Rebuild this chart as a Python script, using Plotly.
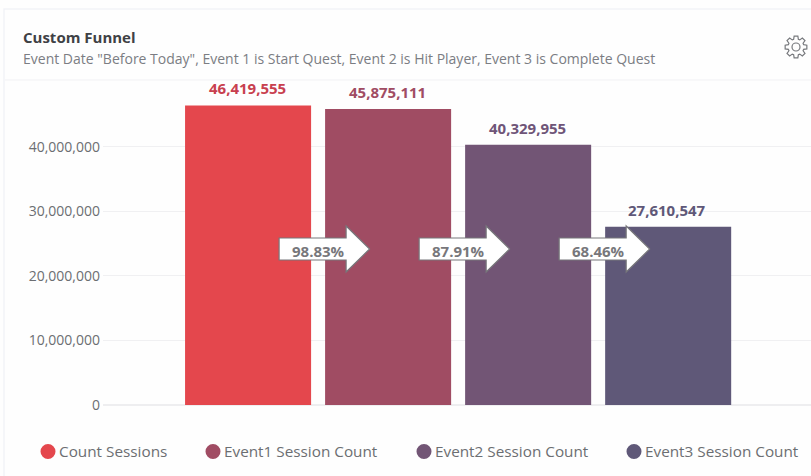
import math
import plotly.graph_objects as go

W, H = 811, 476
PLOT_L, PLOT_T, PLOT_B = 103, 81, 405
series_names = ["Count Sessions", "Event1 Session Count", "Event2 Session Count", "Event3 Session Count"]
series_values = [46419555, 45875111, 40329955, 27610547]
bar_colors = ["#e4474d", "#a04c63", "#725575", "#5f5878"]
label_colors = ["#c8404f", "#a04c63", "#6f5578", "#5f5878"]
conversion_labels = ["98.83%", "87.91%", "68.46%"]
tick_values = [0, 10000000, 20000000, 30000000, 40000000]
tick_labels = ["0", "10,000,000", "20,000,000", "30,000,000", "40,000,000"]
legend_dot_x = [48, 213, 424, 634]
FONT = "Open Sans"

def px(x):
    return (x - PLOT_L) / (W - PLOT_L)

def py(y):
    return (PLOT_B - y) / (PLOT_B - PLOT_T)

fig = go.Figure()
annotations = []
for name, value, color, tcolor in zip(series_names, series_values, bar_colors, label_colors):
    fig.add_bar(
        x=[name], y=[value], name=name, width=0.9, marker=dict(color=color, line_width=0),
        cliponaxis=False, showlegend=False,
    )
    annotations.append(dict(
        x=name, y=value, xref="x", yref="y", yanchor="bottom", yshift=5, xshift=-1, showarrow=False,
        text=f"<b>{value:,}</b>", font=dict(family=FONT, size=15, color=tcolor),
    ))

shapes = [
    dict(type="rect", xref="paper", yref="paper", x0=px(4), x1=px(830), y0=py(9), y1=py(490),
         line=dict(color="#f2f3f8", width=1.5), fillcolor="rgba(0,0,0,0)", layer="below"),
    dict(type="line", xref="paper", yref="paper", x0=px(5), x1=1, y0=py(80), y1=py(80),
         line=dict(color="#f1f1f4", width=1), layer="below"),
]

# Conversion arrows: pixel outlines anchored on the bar they point into
arrow = "M -109 -11 L -42 -11 L -42 -23 L -18.5 0 L -42 23 L -42 11 L -109 11 Z"
for i, label in enumerate(conversion_labels):
    shapes.append(dict(
        type="path", xref="x", yref="paper", xsizemode="pixel", ysizemode="pixel",
        xanchor=i + 1, yanchor=py(249), path=arrow, fillcolor="#ffffff",
        line=dict(color="#77777b", width=1.2), layer="above",
    ))
    annotations.append(dict(
        x=i + 1, xref="x", y=py(251), yref="paper", yanchor="middle", xshift=-70, text=f"<b>{label}</b>",
        showarrow=False, font=dict(family=FONT, size=15, color="#77777b"),
    ))

annotations += [
    dict(x=px(23), y=py(37), xref="paper", yref="paper", xanchor="left", yanchor="middle", showarrow=False, xshift=-2,
         text="<b>Custom Funnel</b>", font=dict(family=FONT, size=15, color="#3f4145")),
    dict(x=px(23), y=py(59), xref="paper", yref="paper", xanchor="left", yanchor="middle", showarrow=False, xshift=-2,
         text='Event Date "Before Today", Event 1 is Start Quest, Event 2 is Hit Player, Event 3 is Complete Quest',
         font=dict(family=FONT, size=14, color="#7b7d83")),
]

# Legend
for name, color, x in zip(series_names, bar_colors, legend_dot_x):
    shapes.append(dict(type="circle", xref="paper", yref="paper", x0=px(x - 7.5), x1=px(x + 7.5),
                       y0=py(459), y1=py(444), fillcolor=color, line_width=0))
    annotations.append(dict(x=px(x + 9), y=py(451), xref="paper", yref="paper", xanchor="left", yanchor="middle",
                            showarrow=False, text=name, font=dict(family=FONT, size=15.3, color="#6c6e72")))

# Gear icon
cx, cy = 796, 47
pts = []
for k in range(8):
    a = k * math.pi / 4
    for da, r in ((-0.30, 8.0), (-0.17, 11.0), (0.17, 11.0), (0.30, 8.0)):
        pts.append((cx + r * math.cos(a + da), cy + r * math.sin(a + da)))
path = "M " + " L ".join(f"{px(x):.5f} {py(y):.5f}" for x, y in pts) + " Z"
shapes.append(dict(type="path", xref="paper", yref="paper", path=path,
                   line=dict(color="#77797d", width=1.2), fillcolor="rgba(0,0,0,0)"))
shapes.append(dict(type="circle", xref="paper", yref="paper", x0=px(cx - 4), x1=px(cx + 4),
                   y0=py(cy + 4), y1=py(cy - 4), line=dict(color="#77797d", width=1.2)))

fig.update_layout(
    width=W, height=H, margin=dict(l=PLOT_L, r=0, t=PLOT_T, b=H - PLOT_B), autosize=False,
    paper_bgcolor="#fefefe", plot_bgcolor="#fefefe", barmode="overlay",
    font=dict(family=FONT, size=13, color="#6c6e72"),
    shapes=shapes, annotations=annotations, showlegend=False,
    xaxis=dict(type="category", categoryorder="array", categoryarray=series_names,
               range=[-1.036, 4.02], showticklabels=False, showgrid=False, zeroline=False, ticks=""),
    yaxis=dict(range=[0, 50200000], tickvals=tick_values, ticktext=tick_labels,
               showgrid=True, gridcolor="#f0f0f2", gridwidth=1, zeroline=True, zerolinecolor="#eeeef0",
               tickfont=dict(family=FONT, size=14, color="#6c6e72"), ticks="", ticklabelstandoff=2),
)
fig.write_html("out.html", config=dict(displayModeBar=False), post_script="document.body.style.margin='0';")
